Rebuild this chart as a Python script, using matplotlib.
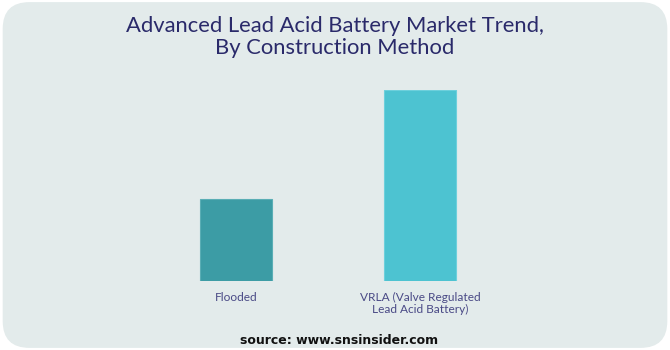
import matplotlib
matplotlib.use('Agg')
import matplotlib.pyplot as plt
from matplotlib.patches import FancyBboxPatch

# --- data ---
categories = ['Flooded', 'VRLA (Valve Regulated\nLead Acid Battery)']
share = [43, 100]
bar_colors = ['#3c9ca5', '#4dc3d1']

title = 'Advanced Lead Acid Battery Market Trend,\nBy Construction Method'
source = 'source: www.snsinsider.com'

W, H = 670, 350
fig = plt.figure(figsize=(W / 100, H / 100), dpi=100)
fig.patch.set_facecolor('white')

# rounded panel behind everything
panel = FancyBboxPatch((0.004, 0.006), 0.992, 0.988,
                       boxstyle='round,pad=0,rounding_size=0.04',
                       transform=fig.transFigure, facecolor='#e3ebeb',
                       edgecolor='none', mutation_aspect=W / H, zorder=-5)
fig.patches.append(panel)

# axes spans full width; bar centres land at 236px and 420px
x0, step = 236, 184
ax = fig.add_axes([0, 1 - 281 / H, 1, (281 - 90) / H])
ax.set_zorder(2)
ax.set_facecolor('none')
xs = list(range(len(categories)))
ax.bar(xs, share, width=72 / step, color=bar_colors,
       edgecolor=['#5aaeb5', '#6dd0dc'], linewidth=0.8)
ax.set_xlim(-x0 / step, (W - x0) / step)
ax.set_ylim(0, max(share))
for s in ax.spines.values():
    s.set_visible(False)
ax.set_yticks([])
ax.set_xticks(xs)
ax.set_xticklabels(categories, fontsize=8.6, color='#4a4a86',
                   linespacing=1.05, family='Lato')
ax.tick_params(axis='x', length=0, pad=8)

fig.text(0.5, 1 - 37 / H, title, ha='center', va='center',
         fontsize=15.8, color='#2a2a6a', family='Lato', linespacing=1.15)
fig.text(339 / W, 1 - 340 / H, source, ha='center', va='center',
         fontsize=9, fontweight='bold', color='#111111', family='DejaVu Sans')

fig.savefig('out.png', dpi=100)
